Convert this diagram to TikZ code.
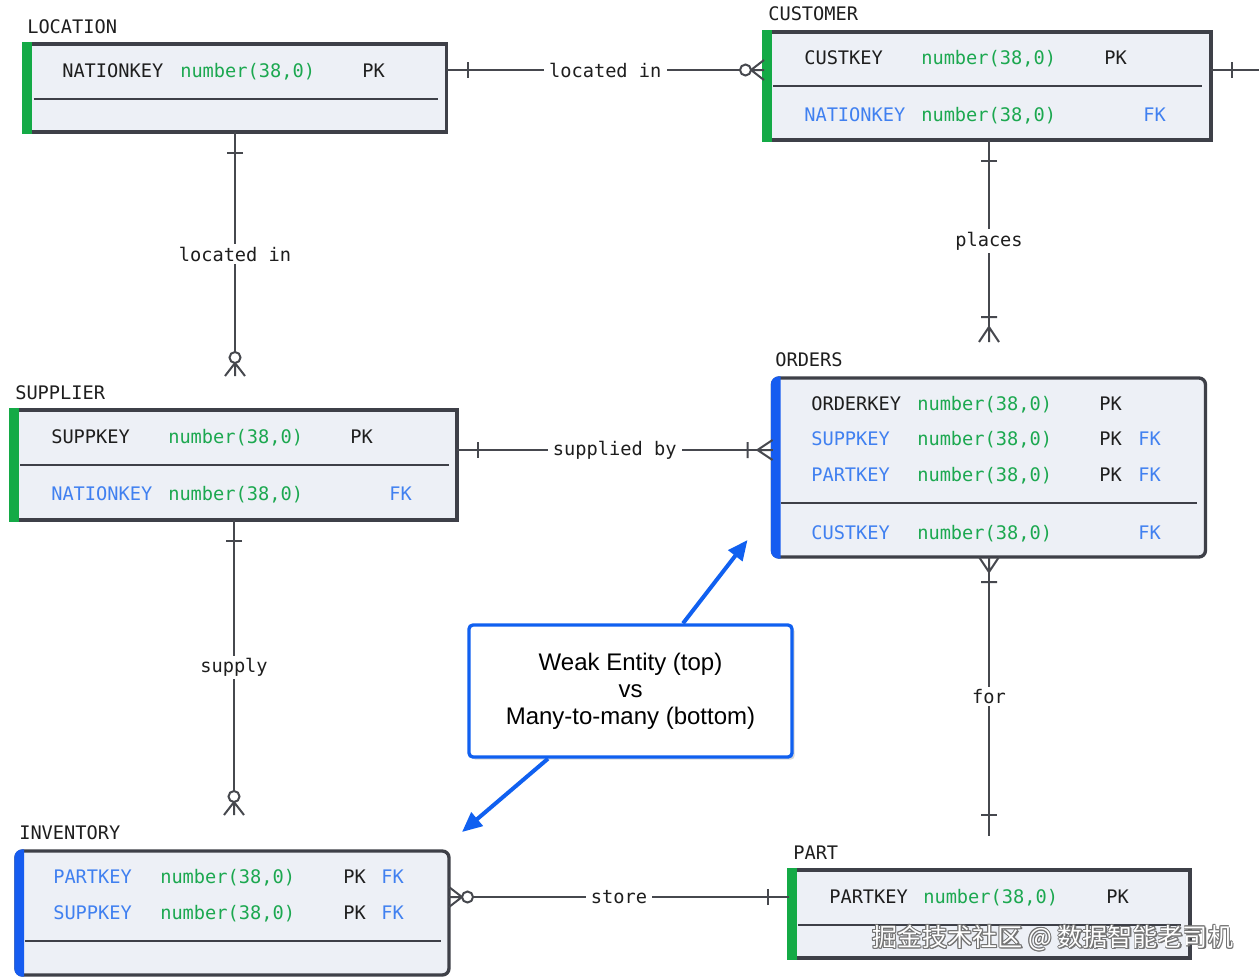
\documentclass[tikz,border=0pt]{standalone}
\usepackage{fontspec}
\setmainfont{Liberation Sans}
\newfontfamily\mono{DejaVu Sans Mono}
\newfontfamily\cjk{Noto Sans CJK SC}
\usetikzlibrary{calc,arrows.meta,shadows}
\definecolor{bordercol}{RGB}{62,64,72}
\definecolor{boxfill}{RGB}{237,240,246}
\definecolor{strongbar}{RGB}{20,170,70}
\definecolor{weakbar}{RGB}{22,92,240}
\definecolor{keygreen}{RGB}{28,168,80}
\definecolor{keyblue}{RGB}{64,128,240}
\definecolor{txt}{RGB}{30,30,30}
\definecolor{conncol}{RGB}{70,72,78}
\definecolor{callblue}{RGB}{16,96,240}
\newcommand\ftxt[5]{\node[ft,text=#4] (#1) at (#2,#3) {#5};}
\begin{document}
\begin{tikzpicture}[x=0.75pt,y=-0.75pt,
  ebox/.style={draw=bordercol,line width=2.5pt,fill=boxfill,inner sep=0pt,outer sep=0pt},
  ft/.style={font=\mono\fontsize{14}{16}\selectfont,anchor=base west,inner sep=0pt},
  conn/.style={draw=conncol,line width=1.5pt},
  rel/.style={fill=white,font=\mono\fontsize{14}{16}\selectfont,text=txt,inner xsep=4pt,inner ysep=2pt},
  sepline/.style={draw=bordercol,line width=1.5pt},
  callarrow/.style={draw=callblue,line width=3pt,-{Triangle[length=15pt,width=13pt]}},
  wm/.style={font=\cjk\fontsize{18.8}{22}\selectfont,anchor=west,inner sep=0pt},
  one/.pic={\draw[conn] (21,-8) -- (21,8);},
  onemany/.pic={\draw[conn] (0,-10) -- (15,0) -- (0,10) (0,0) -- (15,0) (25,-8) -- (25,8);},
  zeromany/.pic={\draw[conn] (0,-10) -- (13,0) -- (0,10) (0,0) -- (13,0); \draw[conn,fill=white] (18.5,0) circle[radius=5.5];},
]
\useasboundingbox (0,0) rectangle (1259,979);
\fill[white] (0,0) rectangle (1259,979);

% ---------- entity boxes ----------
\node[ebox,minimum width=423*0.75pt,minimum height=88*0.75pt] (loc) at (235,88) {};
\node[ebox,minimum width=447*0.75pt,minimum height=108*0.75pt] (cust) at (987.5,86) {};
\node[ebox,minimum width=446*0.75pt,minimum height=110*0.75pt] (sup) at (234,465) {};
\node[ebox,rounded corners=5pt,minimum width=433*0.75pt,minimum height=179*0.75pt] (ord) at (989,467.5) {};
\node[ebox,rounded corners=5pt,minimum width=433*0.75pt,minimum height=124*0.75pt] (inv) at (232.5,913) {};
\node[ebox,minimum width=401*0.75pt,minimum height=88*0.75pt] (part) at (989.5,914) {};

% left colour bars
\foreach \b in {loc,cust,sup,part}
  \fill[strongbar] ($(\b.north west)+(-1.7,-1.7)$) rectangle ($(\b.south west)+(8,1.7)$);
\foreach \b in {ord,inv}{
  \begin{scope}
    \clip ($(\b.north west)+(-5,-5)$) rectangle ($(\b.south west)+(8,5)$);
    \fill[weakbar,rounded corners=6pt] ($(\b.north west)+(-1.7,-1.7)$) rectangle ($(\b.south east)+(1.7,1.7)$);
  \end{scope}}

% separators
\draw[sepline] ($(loc.north west)+(10,55)$) -- ($(loc.north east)+(-9,55)$);
\draw[sepline] ($(cust.north west)+(9,54)$) -- ($(cust.north east)+(-9,54)$);
\draw[sepline] ($(sup.north west)+(9,55)$) -- ($(sup.north east)+(-8,55)$);
\draw[sepline] ($(ord.north west)+(8,125)$) -- ($(ord.north east)+(-9,125)$);
\draw[sepline] ($(inv.north west)+(9,90)$) -- ($(inv.north east)+(-8,90)$);
\draw[sepline] ($(part.north west)+(9,55)$) -- ($(part.north east)+(-9,55)$);

% ---------- entity texts ----------
\ftxt{locT}{27}{33.5}{txt}{LOCATION}
\ftxt{loc1a}{62}{77}{txt}{NATIONKEY}
\ftxt{loc1b}{180}{77}{keygreen}{number(38,0)}
\ftxt{loc1c}{362}{77}{txt}{PK}

\ftxt{custT}{768}{20.5}{txt}{CUSTOMER}
\ftxt{cust1a}{804}{64.5}{txt}{CUSTKEY}
\ftxt{cust1b}{921}{64.5}{keygreen}{number(38,0)}
\ftxt{cust1c}{1104}{64.5}{txt}{PK}
\ftxt{cust2a}{804}{121.5}{keyblue}{NATIONKEY}
\ftxt{cust2b}{921}{121.5}{keygreen}{number(38,0)}
\ftxt{cust2c}{1143}{121.5}{keyblue}{FK}

\ftxt{supT}{15}{399.5}{txt}{SUPPLIER}
\ftxt{sup1a}{51}{443.5}{txt}{SUPPKEY}
\ftxt{sup1b}{168}{443.5}{keygreen}{number(38,0)}
\ftxt{sup1c}{350}{443.5}{txt}{PK}
\ftxt{sup2a}{51}{500.5}{keyblue}{NATIONKEY}
\ftxt{sup2b}{168}{500.5}{keygreen}{number(38,0)}
\ftxt{sup2c}{389}{500.5}{keyblue}{FK}

\ftxt{ordT}{775}{366.5}{txt}{ORDERS}
\ftxt{ord1a}{811}{410.5}{txt}{ORDERKEY}
\ftxt{ord1b}{917}{410.5}{keygreen}{number(38,0)}
\ftxt{ord1c}{1099}{410.5}{txt}{PK}
\ftxt{ord2a}{811}{445.5}{keyblue}{SUPPKEY}
\ftxt{ord2b}{917}{445.5}{keygreen}{number(38,0)}
\ftxt{ord2c}{1099}{445.5}{txt}{PK}
\ftxt{ord2d}{1138}{445.5}{keyblue}{FK}
\ftxt{ord3a}{811}{481.5}{keyblue}{PARTKEY}
\ftxt{ord3b}{917}{481.5}{keygreen}{number(38,0)}
\ftxt{ord3c}{1099}{481.5}{txt}{PK}
\ftxt{ord3d}{1138}{481.5}{keyblue}{FK}
\ftxt{ord4a}{811}{539.5}{keyblue}{CUSTKEY}
\ftxt{ord4b}{917}{539.5}{keygreen}{number(38,0)}
\ftxt{ord4d}{1138}{539.5}{keyblue}{FK}

\ftxt{invT}{19}{839.5}{txt}{INVENTORY}
\ftxt{inv1a}{53}{883.5}{keyblue}{PARTKEY}
\ftxt{inv1b}{160}{883.5}{keygreen}{number(38,0)}
\ftxt{inv1c}{343}{883.5}{txt}{PK}
\ftxt{inv1d}{381}{883.5}{keyblue}{FK}
\ftxt{inv2a}{53}{919.5}{keyblue}{SUPPKEY}
\ftxt{inv2b}{160}{919.5}{keygreen}{number(38,0)}
\ftxt{inv2c}{343}{919.5}{txt}{PK}
\ftxt{inv2d}{381}{919.5}{keyblue}{FK}

\ftxt{partT}{793}{859.5}{txt}{PART}
\ftxt{part1a}{829}{903.5}{txt}{PARTKEY}
\ftxt{part1b}{923}{903.5}{keygreen}{number(38,0)}
\ftxt{part1c}{1106}{903.5}{txt}{PK}

% ---------- relationships ----------
% LOCATION - CUSTOMER
\coordinate (c1a) at ($(loc.north east)+(0,26)$);
\coordinate (c1b) at ($(cust.north west)+(0,38)$);
\draw[conn] (c1a) -- node[rel] (r1) {located in} (c1b);
\pic[rotate=0] at (c1a) {one};
\pic[rotate=180] at (c1b) {zeromany};

% CUSTOMER - off picture
\coordinate (c2a) at ($(cust.north east)+(0,38)$);
\coordinate (c2b) at ($(c2a)+(50,0)$);
\draw[conn] (c2a) -- (c2b);
\pic[rotate=0] at (c2a) {one};

% LOCATION - SUPPLIER
\coordinate (c3b) at ($(loc.south |- sup.north)+(0,-34)$);
\draw[conn] (loc.south) -- node[rel] (r3) {located in} (c3b);
\pic[rotate=-90] at (loc.south) {one};
\pic[rotate=90] at (c3b) {zeromany};

% CUSTOMER - ORDERS
\coordinate (c4a) at (cust.south -| ord.north);
\coordinate (c4b) at ($(ord.north)+(0,-36)$);
\draw[conn] (c4a) -- node[rel] (r4) {places} (c4b);
\pic[rotate=-90] at (c4a) {one};
\pic[rotate=90] at (c4b) {onemany};

% SUPPLIER - ORDERS
\coordinate (c5a) at ($(sup.north east)+(0,40)$);
\coordinate (c5b) at ($(ord.north west)+(0,72)$);
\draw[conn] (c5a) -- node[rel] (r5) {supplied by} (c5b);
\pic[rotate=0] at (c5a) {one};
\pic[rotate=180] at (c5b) {onemany};

% SUPPLIER - INVENTORY
\coordinate (c6b) at ($(sup.south |- inv.north)+(0,-36)$);
\draw[conn] (sup.south) -- node[rel] (r6) {supply} (c6b);
\pic[rotate=-90] at (sup.south) {one};
\pic[rotate=90] at (c6b) {zeromany};

% ORDERS - PART
\coordinate (c7b) at ($(ord.south |- part.north)+(0,-34)$);
\draw[conn] (ord.south) -- node[rel] (r7) {for} (c7b);
\pic[rotate=-90] at (ord.south) {onemany};
\pic[rotate=90] at (c7b) {one};

% INVENTORY - PART
\coordinate (c8a) at ($(inv.north east)+(0,46)$);
\coordinate (c8b) at ($(part.north west)+(0,27)$);
\draw[conn] (c8a) -- node[rel] (r8) {store} (c8b);
\pic[rotate=0] at (c8a) {zeromany};
\pic[rotate=180] at (c8b) {one};

% ---------- callout ----------
\node[draw=callblue,line width=2.5pt,fill=white,rounded corners=3pt,
      minimum width=323*0.75pt,minimum height=132*0.75pt,align=center,
      font=\fontsize{18}{20.25}\selectfont,
      drop shadow={shadow xshift=2pt,shadow yshift=-2pt,opacity=0.3}]
  (call) at (630.5,691) {Weak Entity (top)\\vs\\Many-to-many (bottom)};
\coordinate (a1) at ($(ord.south west)+(-25,-17)$);
\coordinate (a2) at ($(inv.north east)+(13,-19)$);
\draw[callarrow] ($(call.north)+(52.5,0)$) -- (a1);
\draw[callarrow] ($(call.south)+(-82.5,0)$) -- (a2);

% ---------- watermark ----------
\coordinate (wmpos) at (872,938);
\foreach \dx/\dy [count=\i] in {0.8/0,-0.8/0,0/0.8,0/-0.8,0.6/0.6,-0.6/0.6,0.6/-0.6,-0.6/-0.6,1.4/1.4}
  \node[wm,text=black!55] (wmo\i) at ($(wmpos)+(\dx,\dy)$) {掘金技术社区 @ 数据智能老司机};
\node[wm,text=white] (wmtext) at (wmpos) {掘金技术社区 @ 数据智能老司机};
\end{tikzpicture}
\end{document}
